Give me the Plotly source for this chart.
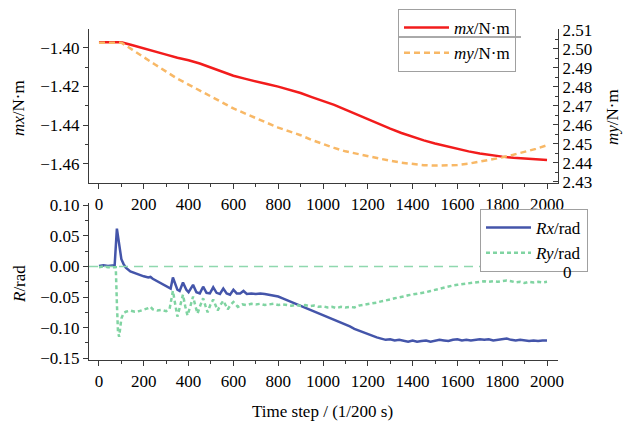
import plotly.graph_objects as go

# ---------------- data ----------------
m_steps = [0, 50, 100, 150, 200, 250, 300, 350, 400, 450, 500, 550, 600, 650, 700, 750, 800, 850, 900, 950,
           1000, 1050, 1100, 1150, 1200, 1250, 1300, 1350, 1400, 1450, 1500, 1550, 1600, 1650, 1700, 1750,
           1800, 1850, 1900, 1950, 2000]
mx_vals = [-1.3972, -1.3972, -1.3972, -1.3988, -1.4003, -1.4020, -1.4036, -1.4052, -1.4065, -1.4082,
           -1.4102, -1.4125, -1.4145, -1.4160, -1.4175, -1.4188, -1.4201, -1.4216, -1.4234, -1.4255,
           -1.4275, -1.4295, -1.4320, -1.4345, -1.4370, -1.4395, -1.4418, -1.4440, -1.4460, -1.4478,
           -1.4494, -1.4508, -1.4522, -1.4535, -1.4546, -1.4555, -1.4562, -1.4568, -1.4573, -1.4577, -1.4580]
my_vals = [2.5033, 2.5033, 2.5033, 2.4995, 2.4955, 2.4918, 2.4880, 2.4843, 2.4812, 2.4782,
           2.4750, 2.4718, 2.4686, 2.4660, 2.4633, 2.4607, 2.4585, 2.4565, 2.4545, 2.4520,
           2.4497, 2.4478, 2.4460, 2.4447, 2.4435, 2.4420, 2.4410, 2.4400, 2.4393, 2.4387,
           2.4385, 2.4386, 2.4388, 2.4395, 2.4405, 2.4415, 2.4428, 2.4442, 2.4457, 2.4473, 2.4492]

rx_steps = [0, 20, 40, 60, 70, 80, 90, 100, 110, 120, 140, 160, 180, 200, 220, 230, 240, 260, 280, 300,
            320, 330, 340, 350, 360, 375, 390, 400, 420, 435, 450, 465, 480, 495, 510, 525, 540, 555, 570,
            585, 600, 615, 630, 645, 660, 680, 700, 720, 740, 760, 780, 800, 820, 840, 860, 880, 900, 920,
            940, 960, 980, 1000, 1020, 1040, 1060, 1080, 1100, 1120, 1140, 1160, 1180, 1200, 1220, 1240,
            1260, 1280, 1300, 1320, 1340, 1360, 1380, 1400, 1420, 1440, 1460, 1480, 1500, 1520, 1540, 1560,
            1580, 1600, 1620, 1640, 1660, 1680, 1700, 1720, 1740, 1760, 1780, 1800, 1820, 1840, 1860, 1880,
            1900, 1920, 1940, 1960, 1980, 2000]
rx_vals = [0.001, 0.002, 0.001, 0.002, 0.002, 0.062, 0.035, 0.012, 0.004, -0.002, -0.008, -0.011, -0.013,
           -0.016, -0.018, -0.017, -0.020, -0.024, -0.028, -0.032, -0.036, -0.018, -0.030, -0.038, -0.040,
           -0.026, -0.038, -0.042, -0.030, -0.042, -0.044, -0.033, -0.043, -0.044, -0.034, -0.043, -0.045,
           -0.036, -0.044, -0.046, -0.038, -0.044, -0.044, -0.040, -0.045, -0.044, -0.045, -0.044, -0.045,
           -0.046, -0.048, -0.049, -0.052, -0.055, -0.058, -0.061, -0.064, -0.067, -0.070, -0.073, -0.076,
           -0.079, -0.082, -0.086, -0.088, -0.092, -0.095, -0.098, -0.102, -0.105, -0.108, -0.111, -0.114,
           -0.116, -0.118, -0.120, -0.119, -0.121, -0.120, -0.122, -0.123, -0.121, -0.123, -0.122, -0.121,
           -0.123, -0.121, -0.120, -0.121, -0.122, -0.120, -0.119, -0.121, -0.120, -0.121, -0.120, -0.119,
           -0.120, -0.119, -0.121, -0.120, -0.120, -0.118, -0.120, -0.121, -0.120, -0.121, -0.122, -0.121,
           -0.122, -0.121, -0.121]

ry_steps = [0, 20, 40, 60, 75, 80, 85, 90, 95, 100, 110, 120, 140, 160, 180, 200, 220, 230, 240, 260, 280,
            300, 315, 330, 340, 350, 362, 375, 385, 395, 408, 420, 430, 440, 452, 465, 475, 485, 497, 510,
            520, 530, 542, 555, 565, 575, 587, 600, 620, 640, 660, 680, 700, 720, 740, 760, 780, 800, 820,
            840, 860, 880, 900, 920, 940, 960, 980, 1000, 1020, 1040, 1060, 1080, 1100, 1120, 1140, 1160,
            1180, 1200, 1220, 1240, 1260, 1280, 1300, 1320, 1340, 1360, 1380, 1400, 1420, 1440, 1460, 1480,
            1500, 1520, 1540, 1560, 1580, 1600, 1620, 1640, 1660, 1680, 1700, 1720, 1740, 1760, 1780, 1800,
            1820, 1840, 1860, 1880, 1900, 1920, 1940, 1960, 1980, 2000]
ry_vals = [-0.001, 0.000, -0.001, -0.001, -0.001, -0.060, -0.108, -0.115, -0.100, -0.085, -0.076, -0.074,
           -0.072, -0.074, -0.073, -0.071, -0.068, -0.066, -0.070, -0.072, -0.071, -0.073, -0.070, -0.040,
           -0.060, -0.082, -0.065, -0.046, -0.065, -0.080, -0.065, -0.049, -0.064, -0.077, -0.064, -0.052,
           -0.064, -0.075, -0.063, -0.054, -0.063, -0.072, -0.063, -0.056, -0.063, -0.070, -0.063, -0.058,
           -0.066, -0.062, -0.063, -0.061, -0.062, -0.061, -0.063, -0.062, -0.061, -0.063, -0.062, -0.063,
           -0.064, -0.063, -0.064, -0.063, -0.065, -0.064, -0.066, -0.065, -0.067, -0.066, -0.068, -0.066,
           -0.067, -0.066, -0.067, -0.064, -0.063, -0.062, -0.060, -0.059, -0.057, -0.056, -0.054, -0.052,
           -0.051, -0.049, -0.047, -0.046, -0.045, -0.043, -0.042, -0.040, -0.038, -0.037, -0.035, -0.033,
           -0.031, -0.030, -0.029, -0.028, -0.027, -0.026, -0.025, -0.024, -0.025, -0.024, -0.025, -0.024,
           -0.023, -0.024, -0.026, -0.025, -0.027, -0.025, -0.026, -0.025, -0.026, -0.025]

x_ticks = list(range(0, 2001, 200))
names = ["<i>mx</i>/N·m", "<i>my</i>/N·m", "<i>Rx</i>/rad", "<i>Ry</i>/rad"]

# ---------------- figure ----------------
W, H = 623, 428
FONT = "Liberation Serif, Times New Roman, serif"
AX = "#3a3a3a"

def px(xp):
    return xp / W

def py(yp):
    return 1 - yp / H

fig = go.Figure()
fig.add_trace(go.Scatter(x=m_steps, y=mx_vals, name=names[0], mode="lines",
                         line=dict(color="#f21c1c", width=2.5), xaxis="x", yaxis="y", legend="legend"))
fig.add_trace(go.Scatter(x=m_steps, y=my_vals, name=names[1], mode="lines",
                         line=dict(color="#f8b866", width=2.5, dash="6px,4px"), xaxis="x", yaxis="y2",
                         legend="legend"))
fig.add_trace(go.Scatter(x=rx_steps, y=rx_vals, name=names[2], mode="lines",
                         line=dict(color="#4455aa", width=2.5), xaxis="x2", yaxis="y3", legend="legend2"))
fig.add_trace(go.Scatter(x=ry_steps, y=ry_vals, name=names[3], mode="lines",
                         line=dict(color="#80d4a2", width=2.5, dash="4px,3px"), xaxis="x2", yaxis="y3",
                         legend="legend2"))

xdom = [px(89), px(558)]
xr = [-44.5, 2049]
tickfont = dict(family=FONT, size=17, color="black")
common_x = dict(range=xr, tickvals=x_ticks, ticks="outside", ticklen=5, tickwidth=1, tickcolor=AX,
                showline=True, linecolor=AX, linewidth=1.2, showgrid=False, zeroline=False,
                tickfont=tickfont, automargin=False,
                minor=dict(dtick=100, tick0=0, ticks="outside", ticklen=3, tickcolor=AX, showgrid=False))

fig.update_layout(
    width=W, height=H, autosize=False,
    margin=dict(l=0, r=0, t=0, b=0, pad=0, autoexpand=False),
    paper_bgcolor="white", plot_bgcolor="white",
    font=dict(family=FONT, size=17, color="black"),
    xaxis=dict(domain=xdom, anchor="y", **common_x),
    yaxis=dict(domain=[py(183), py(29)], range=[-1.4698, -1.3904], tick0=-1.40, dtick=0.02,
               tickformat=".2f", ticks="outside", ticklen=5, tickcolor=AX, showline=True, linecolor=AX,
               linewidth=1.2, showgrid=False, zeroline=False, tickfont=tickfont, automargin=False,
               minor=dict(dtick=0.01, tick0=-1.40, ticks="outside", ticklen=3, tickcolor=AX, showgrid=False)),
    yaxis2=dict(overlaying="y", anchor="x", side="right", range=[2.4293, 2.5105], tick0=2.43, dtick=0.01,
                tickformat=".2f", ticks="inside", ticklen=5, tickcolor=AX, showline=True, linecolor=AX,
                linewidth=1.2, showgrid=False, zeroline=False, tickfont=tickfont, automargin=False,
                minor=dict(dtick=0.005, tick0=2.43, ticks="inside", ticklen=3, tickcolor=AX, showgrid=False)),
    xaxis2=dict(domain=xdom, anchor="y3", **common_x),
    yaxis3=dict(domain=[py(360), py(203)], range=[-0.153, 0.104], tick0=0, dtick=0.05, tickformat=".2f",
                ticks="outside", ticklen=5, tickcolor=AX, showline=True, linecolor=AX, linewidth=1.2,
                showgrid=False, zeroline=False, tickfont=tickfont, automargin=False,
                minor=dict(dtick=0.025, tick0=0, ticks="outside", ticklen=3, tickcolor=AX, showgrid=False)),
    legend=dict(x=px(398), y=py(9), xanchor="left", yanchor="top", bgcolor="rgba(0,0,0,0)",
                bordercolor="#a0a0a0", borderwidth=1, font=dict(family=FONT, size=17, color="black"),
                itemwidth=45, tracegroupgap=0),
    legend2=dict(x=px(480), y=py(209), xanchor="left", yanchor="top", bgcolor="white",
                 bordercolor="#a0a0a0", borderwidth=1, font=dict(family=FONT, size=17, color="black"),
                 itemwidth=45, tracegroupgap=0),
    showlegend=True,
)

# zero reference line in the lower panel
fig.add_shape(type="line", xref="x2 domain", yref="y3", x0=0, x1=1, y0=0, y1=0,
              line=dict(color="#8fd8ae", width=1.5, dash="9px,6px"))
# white backing and separator for the upper legend (legend itself is transparent)
fig.add_shape(type="rect", xref="paper", yref="paper", x0=px(398), x1=px(521), y0=py(65), y1=py(9),
              fillcolor="white", line=dict(width=0), layer="above")
fig.add_shape(type="line", xref="paper", yref="paper", x0=px(398), x1=px(521), y0=py(37), y1=py(37),
              line=dict(color="#555555", width=1), layer="above")

ann = dict(showarrow=False, font=dict(family=FONT, size=17, color="black"), xref="paper", yref="paper",
           xanchor="center", yanchor="middle")
fig.add_annotation(text="0", x=px(567), y=py(272), **ann)
fig.add_annotation(text="<i>mx</i>/N·m", x=px(19), y=py(108), textangle=-90, **ann)
fig.add_annotation(text="<i>my</i>/N·m", x=px(612), y=py(117), textangle=-90, **ann)
fig.add_annotation(text="<i>R</i>/rad", x=px(19), y=py(284), textangle=-90, **ann)
fig.add_annotation(text="Time step / (1/200 s)", x=px(322), y=py(411), **ann)

fig.write_html("out.html", config={"displayModeBar": False},
               post_script="document.body.style.margin='0';document.body.style.overflow='hidden';")
